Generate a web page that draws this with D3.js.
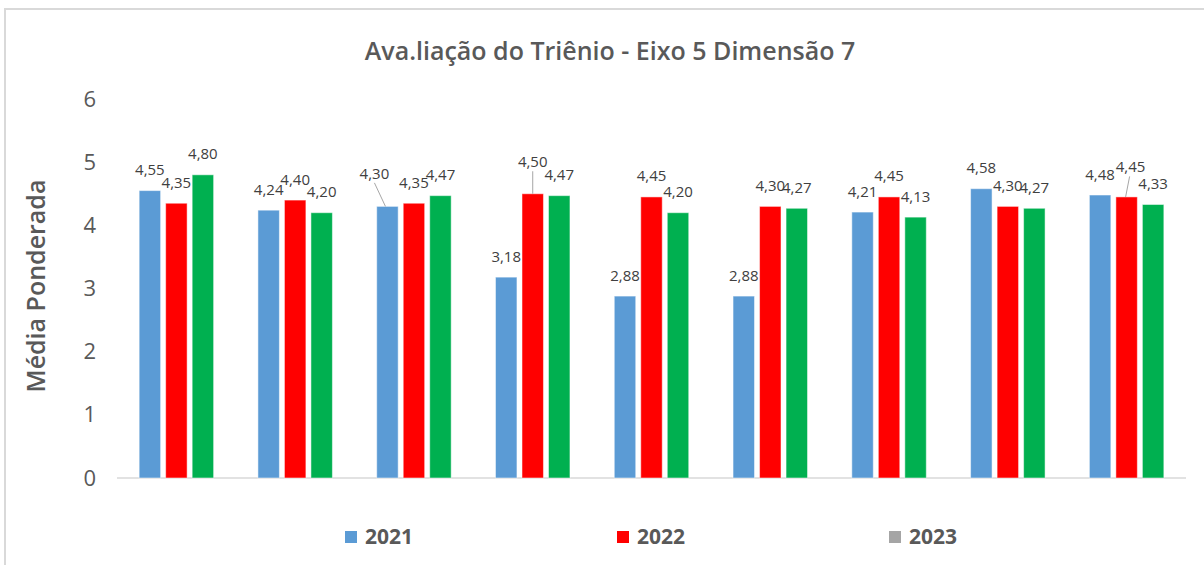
<!DOCTYPE html>
<html>
<head>
<meta charset="utf-8">
<script src="https://cdn.jsdelivr.net/npm/d3@7"></script>
<style>
    body { margin: 0; background: #fff; }
    svg  { display: block; font-family: 'Open Sans', 'Liberation Sans', sans-serif; }
</style>
</head>
<body>
<svg id="chart" width="1204" height="565"></svg>
<script>
const categories = ['1', '2', '3', '4', '5', '6', '7', '8', '9']
const years      = ['2021', '2022', '2023']
const values2021 = [4.55, 4.24, 4.30, 3.18, 2.88, 2.88, 4.21, 4.58, 4.48]
const values2022 = [4.35, 4.40, 4.35, 4.50, 4.45, 4.30, 4.45, 4.30, 4.45]
const values2023 = [4.80, 4.20, 4.47, 4.47, 4.20, 4.27, 4.13, 4.27, 4.33]
const yTicks     = [0, 1, 2, 3, 4, 5, 6]

const barColors    = { '2021': '#5b9bd5', '2022': '#ff0000', '2023': '#00b050' }
const legendColors = { '2021': '#5b9bd5', '2022': '#ff0000', '2023': '#a5a5a5' }

// labels Excel pushed off their bars (with a leader line)
const labelNudge = {
    '3-2021': { dx: -13, dy: -12 },
    '4-2022': { dx: 0,   dy: -11 },
    '9-2022': { dx: 4,   dy: -9 }
}

const series = { '2021': values2021, '2022': values2022, '2023': values2023 }
const rows = categories.map((c, i) => ({
    cat: c,
    bars: years.map(y => ({ cat: c, year: y, value: series[y][i] }))
}))

const svg  = d3.select('#chart')
const grey = '#595959'
const fmt  = v => d3.format('.2f')(v).replace('.', ',')

// frame (only top and left edges are visible in the crop)
svg.append('line')
    .attr('x1', 4).attr('x2', 1204).attr('y1', 9).attr('y2', 9)
    .attr('stroke', '#d9d9d9').attr('stroke-width', 2)
svg.append('line')
    .attr('x1', 5).attr('x2', 5).attr('y1', 8).attr('y2', 565)
    .attr('stroke', '#d9d9d9').attr('stroke-width', 2)

const x0 = d3.scaleBand()
    .domain(categories)
    .range([117, 1186])

const x1 = d3.scaleBand()
    .domain(years)
    .range([x0.bandwidth() * 0.1865, x0.bandwidth() * 0.8135])
    .paddingInner(0.19)

const y = d3.scaleLinear()
    .domain([0, 6])
    .range([478, 99])

// y axis, labels only
svg.append('g')
    .attr('transform', 'translate(96,0)')
    .call(d3.axisLeft(y).tickValues(yTicks).tickFormat(d3.format('d')).tickSize(0).tickPadding(0))
    .call(g => g.select('.domain').remove())
    .selectAll('text')
        .attr('fill', grey)
        .style('font-size', '22px')
        .style('font-family', "'Open Sans', sans-serif")

// baseline
svg.append('line')
    .attr('x1', x0.range()[0]).attr('x2', x0.range()[1])
    .attr('y1', y(0)).attr('y2', y(0))
    .attr('stroke', '#d9d9d9').attr('stroke-width', 1.5)

const groups = svg.selectAll('.group')
    .data(rows)
    .enter().append('g')
        .attr('class', 'group')
        .attr('transform', d => `translate(${x0(d.cat)},0)`)

groups.selectAll('rect')
    .data(d => d.bars)
    .enter().append('rect')
        .attr('x', d => x1(d.year))
        .attr('y', d => y(d.value))
        .attr('width', x1.bandwidth())
        .attr('height', d => y(0) - y(d.value))
        .attr('fill', d => barColors[d.year])
        .attr('stroke', '#fff')
        .attr('stroke-opacity', 0.5)
        .attr('stroke-width', 1)

// data labels
groups.selectAll('.label')
    .data(d => d.bars)
    .enter().append('g')
        .attr('class', 'label')
        .each(function (d) {
            const el    = d3.select(this)
            const nudge = labelNudge[`${d.cat}-${d.year}`] || { dx: 0, dy: 0 }
            const cx    = x1(d.year) + x1.bandwidth() / 2
            const top   = y(d.value)
            const lx    = cx + nudge.dx
            const ly    = top - 15.5 + nudge.dy

            if (nudge.dx || nudge.dy) {
                el.append('line')
                    .attr('x1', lx + (nudge.dx > 0 ? -1 : 0))
                    .attr('y1', ly + 4)
                    .attr('x2', cx + (nudge.dx < 0 ? -2 : nudge.dx > 0 ? -1 : 0))
                    .attr('y2', top)
                    .attr('stroke', '#a6a6a6')
                    .attr('stroke-width', 1)
            }

            el.append('text')
                .attr('x', lx)
                .attr('y', ly)
                .attr('text-anchor', 'middle')
                .attr('fill', '#404040')
                .style('font-size', '15px')
                .text(fmt(d.value))
        })

// title
svg.append('text')
    .attr('x', 610)
    .attr('y', 60)
    .attr('text-anchor', 'middle')
    .attr('fill', grey)
    .style('font-size', '25px')
    .style('font-weight', 600)
    .text('Ava.liação do Triênio - Eixo 5 Dimensão 7')

// y axis title
svg.append('text')
    .attr('transform', 'translate(45,286) rotate(-90)')
    .attr('text-anchor', 'middle')
    .attr('fill', grey)
    .style('font-size', '25px')
    .style('font-weight', 600)
    .text('Média Ponderada')

// legend
const legend = svg.selectAll('.legend')
    .data(years)
    .enter().append('g')
        .attr('class', 'legend')
        .attr('transform', (d, i) => `translate(${345 + i * 272},0)`)

legend.append('rect')
    .attr('y', 531)
    .attr('width', 12)
    .attr('height', 12)
    .attr('fill', d => legendColors[d])

legend.append('text')
    .attr('x', 20)
    .attr('y', 544)
    .attr('fill', grey)
    .style('font-size', '21px')
    .style('font-weight', 700)
    .text(d => d)
</script>
</body>
</html>
